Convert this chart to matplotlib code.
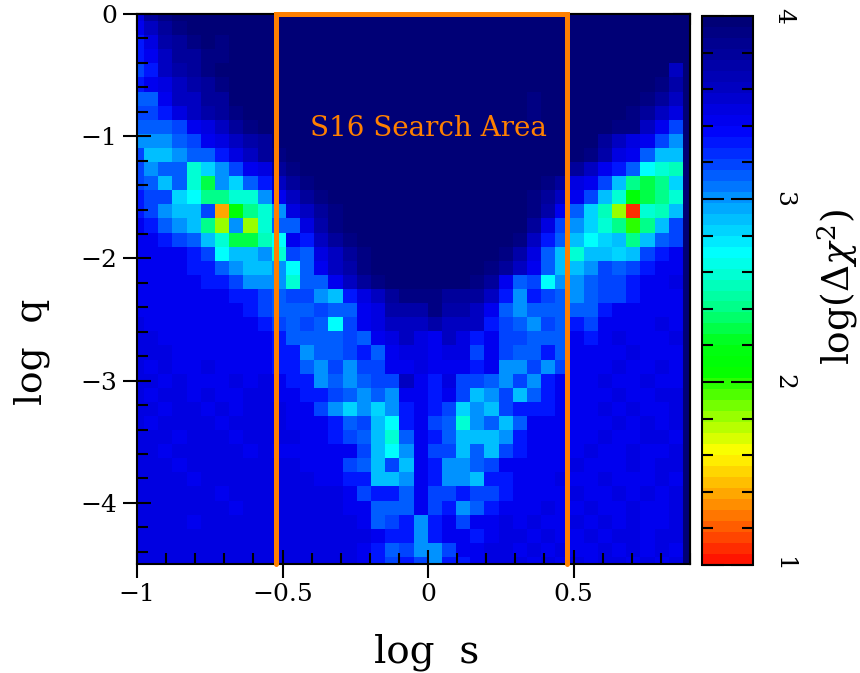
import numpy as np
import matplotlib
matplotlib.use("Agg")
import matplotlib.pyplot as plt
from matplotlib.colors import LinearSegmentedColormap, Normalize
from matplotlib.ticker import MultipleLocator, FixedLocator, FuncFormatter

# ---------------- data ----------------
# cell codes: value = 1 + 0.1 * LEVELS.index(code)   (1.0 ... 4.0)
LEVELS = "0123456789abcdefghijklmnopqrstu"

# rows from top (log q = 0) to bottom (log q = -4.5); 40 columns from log s = -1 to 0.9
ROWS = [
    "pstuuuuuuu uuuuuuuuuu uuuuuuuuuu uuuuuuuuuu",
    "oqstuuuuuu uuuuuuuuuu uuuuuuuuuu uuuuuuuuuu",
    "nprstutuuu uuuuuuuuuu uuuuuuuuuu uuuuuuuuuu",
    "noqssttuuu uuuuuuuuuu uuuuuuuuuu uuuuuuuuuu",
    "mnqrstuuuu uuuuuuuuuu uuuuuuuuuu uuuuuuuuqu",
    "nopqrstuuu uuuuuuuuuu uuuuuuuuuu uuuuuuutru",
    "lloqqssuuu uuuuuuuuuu uuuuuuuutu uuuuuutsqu",
    "mmnpqrstuu uuuuuuuuuu uuuuuuuutu uuuuutsqpu",
    "lllmopqstu uuuuuuuuuu uuuuuuuuuu uuuuttqomu",
    "kkklmopqrs uuuuuuuuuu uuuuuuuuuu uuusqpomku",
    "mjjkllnpqs tuuuuuuuuu uuuuuuuuuu uutrpoljju",
    "mkllgikmop stuuuuuuuu uuuuuuuuuu usqonlhgfu",
    "mljlgdkiln qstuuuuuuu uuuuuuuuut spomjedeiu",
    "nmmiheeggk oqstuuuuuu uuuuuuuuts qomjgbdegu",
    "nmkjjm4beg kpqstuuuuu uuuuuuuutr olif81gfju",
    "onlkje8k8g llprtuuuuu uuuuuuuusp mkigeaejmu",
    "oonmljgddf honqstuuuu uuuuuuutqn ljhijejlmu",
    "oooonmhjjk gmlpqstuuu uuuuuutrpl jgjjijmnou",
    "oooonnlkjj khloqrtuuu uuuuutsqol jjkmlmnoou",
    "ooooonnmkk kglloqstuu uuuutsolmh kklmmnoopu",
    "ooooooonnm lmmkjnpqst ttsssqnknm lklmmnooou",
    "oooooooonm lllmlloprr rtrrqolkll lllnooooou",
    "poooooooon mlmlhmopqq qrqqqnmlkm lnmoooopou",
    "ppoooooooo nllllmlopq poqpnommll lonopooopu",
    "pppooooooo nnkllmnlop poppmomlln loooopooou",
    "popoopoooo nnlkmkmmoo pooonokkmk mooopoopou",
    "ppopooopop onnklklmmq onpmmlkmkn ooopoopoou",
    "poppopoopp oonnmlklko onomjkmjln oooopooppu",
    "ppoppopopp poomkikikn onmikjmnnn ooopopoopu",
    "poppppoppp pooonlmjhn omlgkljloo oooopopopu",
    "pppopppopp ppoonmljgl onljjjknoo ooopooppou",
    "ppopppppop oooooomjhk ommjljmnoo oopoopoopu",
    "pppopppppp ppooomljmj onkklmoooo opooopoppu",
    "ppppoppppp pppoonnjjk onkkjnnooo poopooopou",
    "ppppppoppp pppppomnnl ommnmmnooo opoopopopu",
    "pppppppopp pppppoolll omnklnooop oopoopoopu",
    "ppppoppppp ppppppolmn knomoopopo opopopoopu",
    "pppppppppp ppppppponn knoonoppop oopoppoppu",
    "pppppppppp pppppponlm kkmooppopo poopopopou",
    "pppppppppp pppppponmn mknnopppop opoppopopu",
]

X_TICKS = [-1.0, -0.5, 0.0, 0.5]
Y_TICKS = [0, -1, -2, -3, -4]
CB_TICKS = [1, 2, 3, 4]

# colour scale anchors (value, rgb 0-255)
CMAP_VALUES = [1.0, 1.2, 1.4, 1.6, 1.8, 2.05, 2.2, 2.3, 2.4, 2.5, 2.6, 2.72,
               2.8, 2.9, 3.0, 3.1, 3.2, 3.3, 3.4, 3.5, 3.6, 3.7, 3.8, 3.9, 4.0]
CMAP_COLORS = [(255, 20, 0), (255, 100, 0), (255, 180, 0), (255, 255, 0),
               (150, 255, 0), (0, 255, 0), (0, 255, 20), (0, 255, 80),
               (0, 255, 135), (0, 255, 175), (0, 255, 215), (0, 255, 255),
               (0, 225, 255), (0, 190, 255), (0, 155, 255), (0, 110, 255),
               (0, 70, 255), (0, 30, 255), (0, 0, 250), (0, 0, 228),
               (0, 0, 200), (0, 0, 180), (0, 0, 158), (0, 0, 140), (0, 0, 118)]

# ---------------- build ----------------
rows = [r.replace(" ", "") for r in ROWS]
for r in rows:
    assert len(r) == 40, (r, len(r))
Z = np.array([[1.0 + 0.1 * LEVELS.index(c) for c in r] for r in rows])
nx = Z.shape[1]
ny = Z.shape[0]
x_c = np.linspace(-1.0, 0.9, nx)
y_c = np.linspace(0.0, -4.5, ny)

cmap = LinearSegmentedColormap.from_list(
    "chi",
    [((v - 1.0) / 3.0, tuple(c / 255 for c in col)) for v, col in zip(CMAP_VALUES, CMAP_COLORS)],
    N=50)
norm = Normalize(1.0, 4.0)

plt.rcParams['font.family'] = ['DejaVu Serif']
plt.rcParams['mathtext.fontset'] = 'dejavuserif'

W, H = 860, 673
fig = plt.figure(figsize=(W / 100, H / 100), dpi=100)
ax = fig.add_axes([137 / W, (H - 564) / H, 553 / W, 550 / H])
cax = fig.add_axes([702 / W, (H - 565) / H, 51 / W, 549 / H])

pcm = ax.pcolormesh(x_c, y_c[::-1], Z[::-1], cmap=cmap, norm=norm, shading='nearest')
ax.set_xlim(-1.0, 0.9)
ax.set_ylim(-4.5, 0.0)

def fmt(v, pos=None):
    if abs(v) < 1e-9:
        return "0"
    s = ("%g" % v)
    return s.replace("-", "\u2212")

ax.xaxis.set_major_locator(FixedLocator(X_TICKS))
ax.xaxis.set_minor_locator(MultipleLocator(0.1))
ax.yaxis.set_major_locator(FixedLocator(Y_TICKS))
ax.yaxis.set_minor_locator(MultipleLocator(0.2))
ax.xaxis.set_major_formatter(FuncFormatter(fmt))
ax.yaxis.set_major_formatter(FuncFormatter(fmt))
ax.tick_params(which='major', direction='inout', length=20, width=1.5,
               labelsize=18, pad=4, top=False, right=False)
ax.tick_params(which='minor', direction='in', length=8, width=1.5,
               top=False, right=False)
for s in ax.spines.values():
    s.set_linewidth(1.5)

sx = ax.secondary_xaxis('top')
sx.xaxis.set_major_locator(FixedLocator(X_TICKS))
sx.xaxis.set_minor_locator(MultipleLocator(0.1))
sx.tick_params(which='major', direction='in', length=12, width=1.5, labeltop=False)
sx.tick_params(which='minor', direction='in', length=8, width=1.5)
sx.spines['top'].set_linewidth(1.5)
sy = ax.secondary_yaxis('right')
sy.yaxis.set_major_locator(FixedLocator(Y_TICKS))
sy.yaxis.set_minor_locator(MultipleLocator(0.2))
sy.tick_params(which='major', direction='in', length=12, width=1.5, labelright=False)
sy.tick_params(which='minor', direction='in', length=8, width=1.5)
sy.spines['right'].set_linewidth(1.5)

ax.set_xlabel("log  s", fontsize=28)
ax.set_ylabel("log  q", fontsize=27)
ax.xaxis.set_label_coords((427 - 137) / 553, -(652 - 564) / 550)
ax.yaxis.set_label_coords(-(137 - 32) / 553, (564 - 352) / 550)
ax.xaxis.label.set_va('center')
ax.yaxis.label.set_va('center')

# S16 search area box (log s from log 0.3 to log 3)
bx0, bx1 = np.log10(0.3), np.log10(3.0)
ax.plot([bx0, bx0, bx1, bx1], [-4.5, 0.0, 0.0, -4.5], color='#ff8000', lw=3.6,
        clip_on=False, zorder=5, solid_capstyle='round', solid_joinstyle='miter')
ax.text(0.0, -0.94, "S16 Search Area", color='#ff8000', fontsize=20,
        ha='center', va='center', zorder=6)

cb = fig.colorbar(pcm, cax=cax, ticks=CB_TICKS)
cb.outline.set_linewidth(1.5)
cax.yaxis.set_minor_locator(MultipleLocator(0.2))
cax.tick_params(which='major', direction='in', length=16, width=1.5,
                left=True, right=True, labelsize=18, pad=14)
cax.tick_params(which='minor', direction='in', length=8, width=1.5,
                left=True, right=True)
cax.yaxis.set_major_formatter(FuncFormatter(lambda v, p: "%d" % round(v)))
for lbl in cax.get_yticklabels():
    lbl.set_rotation(-90)
    lbl.set_va('center')
    lbl.set_ha('left')
cax.set_ylabel(r"log($\Delta\chi^2$)", fontsize=27, rotation=90)
cax.yaxis.set_label_coords((838 - 702) / 51, (565 - 287) / 549)
cax.yaxis.label.set_va('center')

fig.savefig("out.png", dpi=100)
